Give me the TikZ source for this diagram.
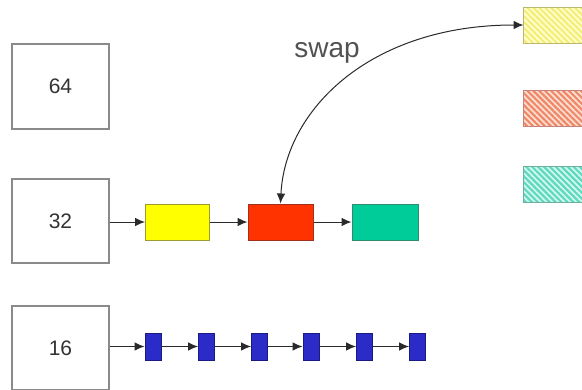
\documentclass[tikz,border=0pt]{standalone}
\usepackage{fontspec}
\setmainfont{Liberation Sans}
\usetikzlibrary{arrows.meta,patterns.meta}
\definecolor{boxline}{HTML}{8A8A8A}
\definecolor{txt}{HTML}{333333}
\definecolor{link}{HTML}{2A2A2A}
\definecolor{cyellow}{HTML}{FFFF00}
\definecolor{cyellowline}{HTML}{9C9A30}
\definecolor{cred}{HTML}{FF3300}
\definecolor{credline}{HTML}{A03020}
\definecolor{cgreen}{HTML}{00CC99}
\definecolor{cgreenline}{HTML}{308C70}
\definecolor{cblue}{HTML}{2B2BC8}
\definecolor{cblueline}{HTML}{1A1A80}
\definecolor{hyellow}{HTML}{FFFFD0}
\definecolor{hyellowline}{HTML}{F4EE78}
\definecolor{hred}{HTML}{FCE0D4}
\definecolor{hredline}{HTML}{F08868}
\definecolor{hteal}{HTML}{D4F8F0}
\definecolor{htealline}{HTML}{5ED8BE}
\tikzset{
  sizebox/.style={draw=boxline, line width=1.3pt, fill=white, minimum width=97pt,
    inner sep=0pt, font=\fontsize{21}{21}\selectfont, text=txt},
  item/.style={minimum width=64pt, minimum height=36pt, inner sep=0pt, line width=1pt},
  small/.style={minimum width=16pt, minimum height=27pt, inner sep=0pt, line width=0.8pt,
    fill=cblue, draw=cblueline},
  hatchbox/.style={minimum width=66pt, minimum height=35pt, inner sep=0pt, line width=1pt},
  hatch/.style={pattern={Lines[angle=-45,distance=4.2pt,line width=2.2pt]}},
  link/.style={draw=link, line width=1pt, -{Latex[length=10pt,width=8.5pt]}},
}
\begin{document}
\begin{tikzpicture}[x=1pt, y=-1pt]
\useasboundingbox (0,0) rectangle (582,389);
\fill[white] (0,0) rectangle (582,389);

% size classes
\node[sizebox, minimum height=85pt] (b64) at (60.5,86.5) {64};
\node[sizebox, minimum height=84pt] (b32) at (60.5,221) {32};
\node[sizebox, minimum height=84pt] (b16) at (60.5,348) {16};

% chain of the 32 class
\node[item, fill=cyellow, draw=cyellowline] (y1) at (177.5,222) {};
\node[item, fill=cred, draw=credline, minimum width=65pt] (r1) at (280.5,222) {};
\node[item, fill=cgreen, draw=cgreenline, minimum width=66pt] (g1) at (385,222) {};
\draw[link] (b32.east |- y1.west) -- (y1.west);
\draw[link] (y1.east) -- (r1.west);
\draw[link] (r1.east) -- (g1.west);

% chain of the 16 class
\foreach \i/\x in {1/153,2/206.5,3/259.5,4/311,5/364.5,6/417.5}
  \node[small] (s\i) at (\x,346.5) {};
\draw[link] (b16.east |- s1.west) -- (s1.west);
\foreach \a/\b in {1/2,2/3,3/4,4/5,5/6}
  \draw[link] (s\a.east) -- (s\b.west);

% hatched blocks on the right
\node[hatchbox, fill=hyellow] (hy) at (557,25) {};
\fill[hatch, pattern color=hyellowline] (hy.south west) rectangle (hy.north east);
\draw[cyellowline!70, line width=1pt] (hy.south west) rectangle (hy.north east);
\node[hatchbox, fill=hred] (hr) at (557,108.5) {};
\fill[hatch, pattern color=hredline] (hr.south west) rectangle (hr.north east);
\draw[credline!60, line width=1pt] (hr.south west) rectangle (hr.north east);
\node[hatchbox, fill=hteal] (ht) at (557,184) {};
\fill[hatch, pattern color=htealline] (ht.south west) rectangle (ht.north east);
\draw[cgreenline!70, line width=1pt] (ht.south west) rectangle (ht.north east);

% swap arrow
\draw[link, {Latex[length=10pt,width=8.5pt]}-{Latex[length=10pt,width=8.5pt]}]
  (r1.north) .. controls (285,110) and (370,25) .. (hy.west);
\node[text=txt!85!white, font=\fontsize{28}{28}\selectfont] (swap) at (327,53) {swap};
\end{tikzpicture}
\end{document}
